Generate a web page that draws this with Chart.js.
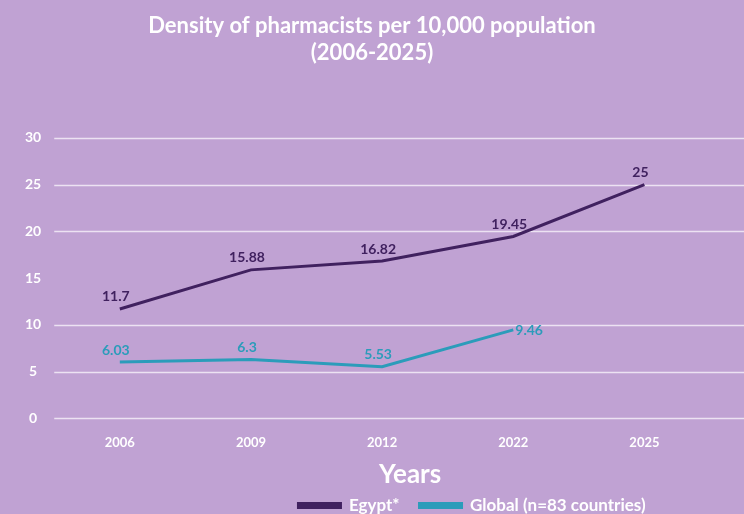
<!DOCTYPE html>
<html>
<head>
<meta charset="utf-8">
<script src="https://cdn.jsdelivr.net/npm/chart.js@4.4.1/dist/chart.umd.min.js"></script>
<style>
  html, body { margin: 0; padding: 0; background: #c0a2d3; }
  #wrap { width: 744px; height: 514px; }
</style>
</head>
<body>
<div id="wrap"><canvas id="densityChart"></canvas></div>
<script>
// years on the x axis
const years = ['2006', '2009', '2012', '2022', '2025'];
// density per 10,000 population
const egypt = [11.7, 15.88, 16.82, 19.45, 25];
const globalAvg = [6.03, 6.3, 5.53, 9.46, null];
const yTicks = [0, 5, 10, 15, 20, 25, 30];

const FONT = 'Lato, "Open Sans", sans-serif';
const purple = '#40215f';
const teal = '#2b9cba';

// horizontal guide lines, running out to the right edge like the original
const gridLines = {
  id: 'gridLines',
  beforeDatasetsDraw(chart) {
    const { ctx, chartArea, scales } = chart;
    ctx.save();
    ctx.strokeStyle = '#ece2f2';
    ctx.lineWidth = 1.5;
    yTicks.forEach(v => {
      if (v === 15) return; // the 15 line is not drawn in the source
      const y = Math.round(scales.y.getPixelForValue(v)) + 0.5;
      ctx.beginPath();
      ctx.moveTo(chartArea.left, y);
      ctx.lineTo(chart.width, y);
      ctx.stroke();
    });
    ctx.restore();
  }
};

// value labels over the points
const valueLabels = {
  id: 'valueLabels',
  afterDatasetsDraw(chart) {
    const { ctx } = chart;
    ctx.save();
    ctx.font = 'bold 14px ' + FONT;
    chart.data.datasets.forEach((ds, i) => {
      const meta = chart.getDatasetMeta(i);
      ctx.fillStyle = ds.borderColor;
      meta.data.forEach((pt, j) => {
        const v = ds.data[j];
        if (v == null) return;
        const last = i === 1 && j === 3;
        ctx.textAlign = last ? 'left' : 'center';
        ctx.textBaseline = 'bottom';
        const dx = last ? 2 : -4;
        const dy = last ? 8 : -5;
        ctx.fillText(String(v), pt.x + dx, pt.y + dy);
      });
    });
    ctx.restore();
  }
};

// nudge title, axis title and legend to where the original has them
const nudge = {
  id: 'nudge',
  afterLayout(chart) {
    const lg = chart.legend;
    lg.left += 107; lg.right += 107;
    lg.top -= 11; lg.bottom -= 11;
    const tb = chart.titleBlock;
    tb.left += 7; tb.right += 7;
    chart.scales.x.right += 56; // only moves the "Years" caption
  }
};

new Chart(document.getElementById('densityChart'), {
  type: 'line',
  data: {
    labels: years,
    datasets: [
      {
        label: 'Egypt*',
        data: egypt,
        borderColor: purple,
        backgroundColor: purple,
        borderWidth: 3,
        pointRadius: 0,
        tension: 0
      },
      {
        label: 'Global (n=83 countries)',
        data: globalAvg,
        borderColor: teal,
        backgroundColor: teal,
        borderWidth: 3,
        pointRadius: 0,
        tension: 0
      }
    ]
  },
  options: {
    responsive: true,
    maintainAspectRatio: false,
    animation: false,
    layout: { padding: { left: 20, right: 34, top: 6, bottom: -21 } },
    plugins: {
      title: {
        display: true,
        text: ['Density of pharmacists per 10,000 population', '(2006-2025)'],
        color: '#ffffff',
        font: { family: FONT, size: 22, weight: 'bold', lineHeight: 1.2 },
        padding: { top: 7, bottom: 72 }
      },
      legend: {
        position: 'bottom',
        labels: {
          color: '#ffffff',
          font: { family: FONT, size: 17, weight: 'bold' },
          boxWidth: 42,
          boxHeight: 4,
          padding: 20
        }
      },
      tooltip: { enabled: false }
    },
    scales: {
      x: {
        offset: true,
        grid: { display: false },
        border: { display: false },
        ticks: {
          color: '#ffffff',
          font: { family: FONT, size: 13, weight: 'bold' },
          padding: 9
        },
        title: {
          display: true,
          text: 'Years',
          color: '#ffffff',
          font: { family: FONT, size: 26, weight: 'bold', lineHeight: 1 },
          padding: { top: 2, bottom: 0 }
        }
      },
      y: {
        min: 0,
        max: 30,
        afterBuildTicks(axis) { axis.ticks = yTicks.map(v => ({ value: v })); },
        grid: { display: false },
        border: { display: false },
        ticks: {
          color: '#ffffff',
          font: { family: FONT, size: 14, weight: 'bold' },
          crossAlign: 'center',
          padding: 5
        }
      }
    }
  },
  plugins: [gridLines, valueLabels, nudge]
});
</script>
</body>
</html>
